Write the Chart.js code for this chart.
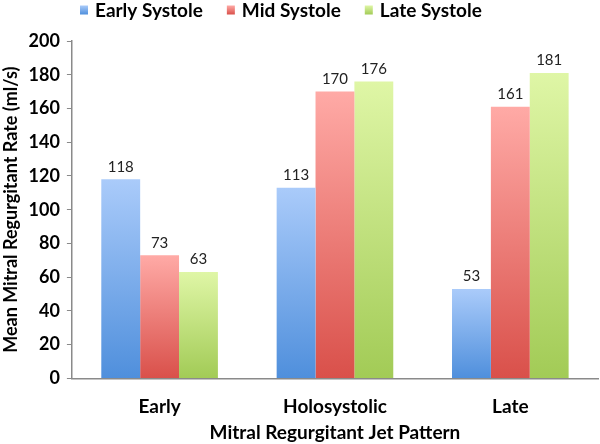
<!DOCTYPE html>
<html>
<head>
<meta charset="utf-8">
<script src="https://cdn.jsdelivr.net/npm/chart.js@4"></script>
<style>
  html, body { margin: 0; padding: 0; background: #fff; }
  #wrap { width: 600px; height: 444px; position: relative; }
</style>
</head>
<body>
<div id="wrap"><canvas id="c" width="600" height="444"></canvas></div>
<script>
const categories = ["Early", "Holosystolic", "Late"];
const seriesNames = ["Early Systole", "Mid Systole", "Late Systole"];
const earlySystole = [118, 113, 53];
const midSystole = [73, 170, 161];
const lateSystole = [63, 176, 181];
const yTicks = [0, 20, 40, 60, 80, 100, 120, 140, 160, 180, 200];

const FONT = 'Lato, "Open Sans", sans-serif';
const gradStops = [
  ["#aacbfa", "#4f8fdc"],
  ["#ffaaa6", "#d9504a"],
  ["#dff6a6", "#a2cb56"]
];

function barGradient(idx) {
  return function(ctx) {
    const chart = ctx.chart;
    if (!chart.chartArea || ctx.type !== 'data') return gradStops[idx][1];
    const y = chart.scales.y;
    const top = y.getPixelForValue(ctx.raw);
    const bottom = y.getPixelForValue(0);
    if (!isFinite(top) || !isFinite(bottom) || top === bottom) return gradStops[idx][1];
    const g = chart.ctx.createLinearGradient(0, top, 0, bottom);
    g.addColorStop(0, gradStops[idx][0]);
    g.addColorStop(1, gradStops[idx][1]);
    return g;
  };
}

const valueLabels = {
  id: 'valueLabels',
  afterDatasetsDraw(chart) {
    const c = chart.ctx;
    c.save();
    c.font = '15px ' + FONT;
    c.fillStyle = '#222';
    c.textAlign = 'center';
    c.textBaseline = 'bottom';
    chart.data.datasets.forEach((ds, i) => {
      const meta = chart.getDatasetMeta(i);
      meta.data.forEach((bar, j) => {
        c.fillText(String(ds.data[j]), bar.x, bar.y - 5);
      });
    });
    c.restore();
  }
};

// Custom legend drawn at the top (offset left as in the reference)
const topLegend = {
  id: 'topLegend',
  afterDraw(chart) {
    const c = chart.ctx;
    c.save();
    c.font = 'bold 19px ' + FONT;
    c.textBaseline = 'middle';
    c.textAlign = 'left';
    const sw = 8, sh = 9, gapText = 7, gapItem = 24;
    let x = 80;
    const yMid = 10;
    chart.data.datasets.forEach((ds, i) => {
      const g = c.createLinearGradient(0, yMid - sh / 2, 0, yMid + sh / 2);
      g.addColorStop(0, gradStops[i][0]);
      g.addColorStop(1, gradStops[i][1]);
      c.fillStyle = g;
      c.fillRect(x, yMid - sh / 2, sw, sh);
      x += sw + gapText;
      c.fillStyle = '#000';
      c.fillText(ds.label, x, yMid + 1);
      x += c.measureText(ds.label).width + gapItem;
    });
    c.restore();
  }
};

new Chart(document.getElementById('c'), {
  type: 'bar',
  data: {
    labels: categories,
    datasets: [
      { label: seriesNames[0], data: earlySystole, backgroundColor: barGradient(0) },
      { label: seriesNames[1], data: midSystole, backgroundColor: barGradient(1) },
      { label: seriesNames[2], data: lateSystole, backgroundColor: barGradient(2) }
    ]
  },
  options: {
    responsive: false,
    animation: false,
    layout: { padding: { top: 41, right: 2, left: 0, bottom: 0 } },
    datasets: { bar: { barPercentage: 1.0, categoryPercentage: 0.665, borderWidth: 0 } },
    plugins: {
      legend: { display: false },
      tooltip: { enabled: false }
    },
    scales: {
      x: {
        grid: { display: false, drawTicks: false },
        border: { display: true, color: '#8a8a8a', width: 1.5 },
        ticks: {
          color: '#000',
          padding: 17,
          font: { family: FONT, size: 19, weight: 'bold' }
        },
        title: {
          display: true,
          text: 'Mitral Regurgitant Jet Pattern',
          color: '#000',
          padding: { top: -14, bottom: 0 },
          font: { family: FONT, size: 19, weight: 'bold' }
        }
      },
      y: {
        min: 0,
        max: 200,
        afterBuildTicks(scale) { scale.ticks = yTicks.map(v => ({ value: v })); },
        grid: { display: true, drawOnChartArea: false, drawTicks: true, tickLength: 5, color: '#8a8a8a' },
        border: { display: true, color: '#8a8a8a', width: 1.5 },
        ticks: {
          color: '#000',
          padding: 7,
          font: { family: FONT, size: 18, weight: 'bold' }
        },
        title: {
          display: true,
          text: 'Mean Mitral Regurgitant Rate (ml/s)',
          color: '#000',
          padding: { top: 0, bottom: 0 },
          font: { family: FONT, size: 18, weight: 'bold' }
        }
      }
    }
  },
  plugins: [valueLabels, topLegend]
});
</script>
</body>
</html>
